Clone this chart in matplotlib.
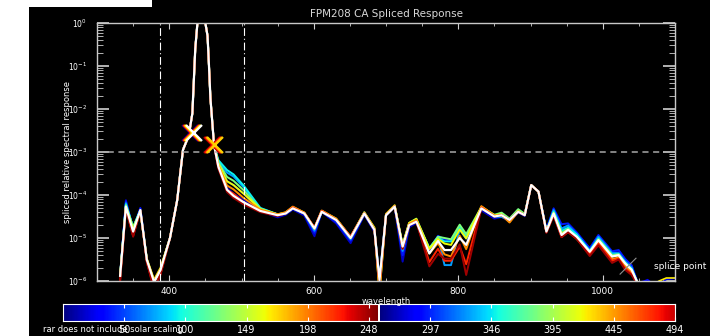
import numpy as np
import matplotlib
matplotlib.use('Agg')
import matplotlib.pyplot as plt
import matplotlib.ticker as mticker
from matplotlib.colors import ListedColormap
from matplotlib.patches import Rectangle
from matplotlib.transforms import offset_copy

# ---- data (response given as log10) ----
wavelength = [332, 340, 350, 360, 369, 379, 388, 401, 411, 419,
              427, 432, 436, 439, 445, 450, 453, 455, 457, 462,
              468, 480, 489, 503, 526, 550, 561, 571, 587, 601,
              611, 631, 651, 670, 684, 691, 700, 712, 723, 732,
              742, 760, 772, 781, 790, 802, 811, 832, 850, 860,
              871, 883, 892, 901, 911, 922, 932, 943, 952, 964,
              982, 994, 1013, 1022, 1031, 1040, 1047]

# final spliced curve (white)
white_log = [-5.88, -4.27, -4.85, -4.35, -5.51, -6.02, -5.74, -5.00, -4.12, -2.95,
             -2.62, -2.10, -0.60, 0.00, 0.05, 0.00, -0.30, -1.00, -1.75, -2.84,
             -3.34, -3.88, -4.02, -4.17, -4.37, -4.47, -4.43, -4.31, -4.43, -4.78,
             -4.39, -4.58, -5.00, -4.43, -4.81, -5.98, -4.47, -4.27, -5.20, -4.70,
             -4.62, -5.36, -5.07, -5.28, -5.28, -5.00, -5.16, -4.31, -4.50, -4.47,
             -4.58, -4.39, -4.47, -3.77, -3.92, -4.85, -4.43, -4.93, -4.81, -4.97,
             -5.32, -5.05, -5.43, -5.40, -5.59, -5.74, -6.00]

# individual spectra, as log10 offset from the white curve
dark_blue_off = [0, .15, .05, .05, 0, 0, 0, 0, 0, 0,
                 0, 0, 0, 0, 0, 0, 0, 0, 0, 0,
                 0, .05, .05, .05, 0, -.05, -.03, -.03, -.05, -.18,
                 0, -.08, -.12, -.03, -.05, .05, 0, 0, -.35, -.05,
                 -.03, .05, .10, .22, .20, .20, .15, -.05, -.05, -.04,
                 -.03, -.02, -.02, 0, 0, .05, .10, .15, .10, .08,
                 .08, .10, .10, .10, .10, .10, 0]
blue_off = [0, .12, .05, .04, 0, 0, 0, 0, 0, 0,
            0, 0, 0, 0, 0, 0, 0, 0, 0, 0,
            .05, .20, .25, .20, .03, 0, 0, 0, -.02, -.10,
            0, -.05, -.06, -.02, 0, 0, 0, 0, -.20, 0,
            0, .10, .12, .25, .22, .25, .20, 0, 0, 0,
            0, 0, 0, 0, 0, .04, .12, .25, .15, .10,
            .08, .12, .12, .12, .10, .10, .03]
light_blue_off = [0, .08, .08, 0, 0, 0, 0, 0, 0, 0,
                  0, 0, 0, 0, 0, 0, 0, 0, 0, 0,
                  .12, .40, .45, .35, .06, .02, 0, 0, 0, -.05,
                  0, 0, -.03, 0, 0, 0, 0, 0, -.10, 0,
                  0, .12, .10, -.35, -.35, .20, .15, 0, 0, -.04,
                  0, .02, 0, 0, 0, 0, .08, .15, .10, .06,
                  .03, .08, .08, .05, .05, .05, 0]
cyan_off = [0, .05, .10, 0, 0, 0, 0, 0, 0, 0,
            0, 0, 0, 0, 0, 0, 0, 0, 0, 0,
            .15, .46, .50, .39, .07, .02, 0, 0, 0, 0,
            0, 0, 0, 0, 0, 0, 0, 0, 0, .02,
            .03, .12, .08, .20, .20, .25, .20, 0, .02, .03,
            .02, .05, .02, 0, 0, 0, .05, .10, .05, .05,
            .02, .04, .04, .03, .02, .02, 0]
green_off = [0, .03, .10, -.02, 0, 0, 0, 0, 0, 0,
             0, 0, 0, 0, 0, 0, 0, 0, 0, 0,
             .10, .30, .35, .28, .05, .02, .02, .02, 0, 0,
             .02, .02, .02, .03, .03, -.10, .02, .02, .05, .05,
             .07, .12, .10, .28, .25, .31, .25, .03, .04, .06,
             .03, .06, .03, 0, 0, 0, .02, .05, .02, -.05,
             0, .02, .03, .02, 0, 0, 0]
yellow_off = [0, 0, .05, -.05, .03, .05, .05, 0, 0, 0,
              0, 0, 0, 0, 0, 0, 0, 0, 0, 0,
              .06, .20, .25, .20, .04, .02, .02, .03, .02, 0,
              .02, .03, .02, .02, .05, -.30, .03, .03, .03, .05,
              .06, .10, .05, .15, .12, .20, .15, .04, .03, .02,
              -.04, .02, 0, 0, 0, 0, 0, .02, 0, -.03,
              -.02, 0, 0, 0, -.03, -.02, 0]
orange_off = [0, -.02, -.05, -.03, 0, .02, .02, 0, 0, 0,
              0, 0, 0, 0, 0, 0, 0, 0, 0, 0,
              .03, .10, .15, .10, .03, .02, .03, .04, .02, .02,
              .03, .03, .03, .02, .02, -.25, .02, .02, 0, .03,
              .04, 0, -.05, -.10, -.15, .05, -.10, .05, .02, 0,
              -.06, 0, 0, 0, 0, 0, -.02, -.03, -.03, -.03,
              -.04, -.05, -.06, -.05, -.07, -.06, 0]
red_off = [-.10, -.04, -.10, 0, -.05, -.15, -.10, 0, 0, 0,
           0, 0, 0, 0, 0, 0, 0, 0, 0, 0,
           -.03, 0, .05, 0, 0, 0, 0, .02, 0, .02,
           .02, 0, .03, 0, 0, -.10, 0, 0, -.05, 0,
           0, -.20, -.18, -.25, -.25, -.20, -.45, .02, 0, 0,
           0, 0, 0, 0, 0, -.02, -.03, -.05, -.05, -.05,
           -.06, -.08, -.10, -.08, -.12, -.10, -.05]
dark_red_off = [-.10, -.05, -.12, 0, -.05, -.20, -.10, 0, 0, 0,
                0, 0, 0, 0, 0, 0, 0, 0, 0, 0,
                -.05, -.05, -.05, -.05, -.03, -.02, 0, 0, 0, 0,
                0, 0, 0, 0, 0, -.05, 0, 0, -.05, 0,
                0, -.30, -.30, -.20, -.20, -.15, -.70, 0, 0, 0,
                0, 0, 0, 0, 0, -.03, -.05, -.05, -.05, -.05,
                -.10, -.12, -.15, -.10, -.15, -.12, -.05]

# small traces beyond the end of the white curve
tail_wl = [1047, 1058, 1062, 1068, 1078, 1088, 1100]
tail_blue = [-6.05, -6.00, -5.97, -6.05, -6.10, -5.96, -5.94]
tail_yellow = [-6.10, -6.10, -6.05, -6.10, -6.00, -5.93, -5.93]

# splice markers and guide lines
splice_wl = [431.5, 460.7]
splice_resp = [2.7e-3, 1.45e-3]
band_edges = [387, 504]
threshold = 1e-3
pointer_wl = [1024, 1046]
pointer_resp = [10 ** -5.84, 10 ** -5.47]

cbar_max = 494
cbar_labels = ['50', '100', '149', '198', '248', '297', '346', '395', '445', '494']

jet = plt.cm.jet
spectra = [(dark_blue_off, jet(0.06)), (blue_off, jet(0.15)), (light_blue_off, jet(0.28)),
           (cyan_off, jet(0.36)), (green_off, jet(0.50)), (yellow_off, jet(0.64)),
           (orange_off, jet(0.76)), (red_off, jet(0.87)), (dark_red_off, jet(0.97))]

fig = plt.figure(figsize=(7.1, 3.36), dpi=100, facecolor='black')
fig.patches.append(Rectangle((0, 0), 29 / 710, 1, transform=fig.transFigure,
                             facecolor='white', edgecolor='none', zorder=0))
fig.patches.append(Rectangle((0, 1 - 7 / 336), 152 / 710, 7 / 336, transform=fig.transFigure,
                             facecolor='white', edgecolor='none', zorder=0))

ax = fig.add_axes([97 / 710, 1 - 281 / 336, 578 / 710, 258 / 336])
ax.set_facecolor('black')

wl = np.array(wavelength)
base = np.array(white_log)
for offs, col in spectra:
    ax.plot(wl, 10 ** (base + np.array(offs)), color=col, lw=1.4)
ax.plot(tail_wl, 10 ** np.array(tail_blue), color=jet(0.12), lw=1.2)
ax.plot(tail_wl, 10 ** np.array(tail_yellow), color=jet(0.66), lw=1.2)
ax.plot(wl, 10 ** base, color='white', lw=1.6)

for x in band_edges:
    ax.axvline(x, color='white', lw=0.8, dashes=(7, 2.5, 1, 2.5))
ax.axhline(threshold, color='#a8a8a8', lw=1.1, dashes=(4, 3))

# rainbow-stacked crosses at the splice points
x_sets = [(['#000080', '#ff0000', '#ff8000', '#ffff00', '#ffffff'], [-2.0, -1.0, 0.0, 1.0, 2.0]),
          (['#a00000', '#ff0000', '#ff8000', '#ffd000'], [-1.5, -0.5, 0.5, 1.5])]
for (cols, shifts), x, y in zip(x_sets, splice_wl, splice_resp):
    for c, s in zip(cols, shifts):
        tr = offset_copy(ax.transData, fig=fig, x=s, y=0, units='dots')
        ax.plot([x], [y], marker='x', ms=12, mew=1.6, color=c, transform=tr, zorder=5)

ax.plot(pointer_wl, pointer_resp, color='#909090', lw=0.8)
ax.text(1071, 10 ** -5.67, 'splice point', color='white', fontsize=6.5, va='center')

ax.set_yscale('log')
ax.set_xlim(300, 1100)
ax.set_ylim(1e-6, 1)
ax.xaxis.set_major_locator(mticker.MultipleLocator(200))
ax.xaxis.set_minor_locator(mticker.MultipleLocator(50))
ax.yaxis.set_major_locator(mticker.LogLocator(base=10, numticks=10))
ax.yaxis.set_minor_locator(mticker.LogLocator(base=10, subs=np.arange(2, 10), numticks=10))
ax.yaxis.set_minor_formatter(mticker.NullFormatter())
ax.tick_params(which='both', direction='in', top=True, right=True, colors='#d0d0d0',
               labelcolor='white')
ax.tick_params(axis='x', which='major', length=4.3, pad=4, labelsize=6.5)
ax.tick_params(axis='x', which='minor', length=2.2)
ax.tick_params(axis='y', which='major', length=8.6, width=1.2, pad=7, labelsize=5.5)
ax.tick_params(axis='y', which='minor', length=4.3)
for sp in ax.spines.values():
    sp.set_color('#c8c8c8')
    sp.set_linewidth(1)

# colour bar: two passes through the colour table, index 255 white
cb_colors = [(1, 1, 1, 1) if v % 256 == 255 else jet((v % 256) / 254) for v in range(cbar_max + 1)]
cax = fig.add_axes([63 / 710, 1 - 321 / 336, 612 / 710, 17 / 336])
cax.imshow(np.arange(cbar_max + 1)[None, :], cmap=ListedColormap(cb_colors), aspect='auto',
           extent=[0, cbar_max, 0, 1], interpolation='nearest')
cax.set_yticks([])
cax.set_xticks(np.linspace(cbar_max / 10, cbar_max, 10))
cax.set_xticklabels(cbar_labels)
cax.tick_params(axis='x', direction='in', top=True, length=3, colors='white', labelsize=7, pad=3)
for sp in cax.spines.values():
    sp.set_color('white')

fig.text(386 / 710, 1 - 14 / 336, 'FPM208 CA Spliced Response', color='#d8d8d8',
         fontsize=7.5, ha='center', va='center')
fig.text(67 / 710, 1 - 152 / 336, 'spliced relative spectral response', color='white',
         fontsize=6, rotation=90, ha='center', va='center')
fig.text(386 / 710, 1 - 301 / 336, 'wavelength', color='white', fontsize=6,
         ha='center', va='center')
fig.text(43 / 710, 1 - 329 / 336, 'rar does not include solar scaling', color='white',
         fontsize=6, ha='left', va='center')

fig.savefig('out.png', dpi=100, facecolor='black')
